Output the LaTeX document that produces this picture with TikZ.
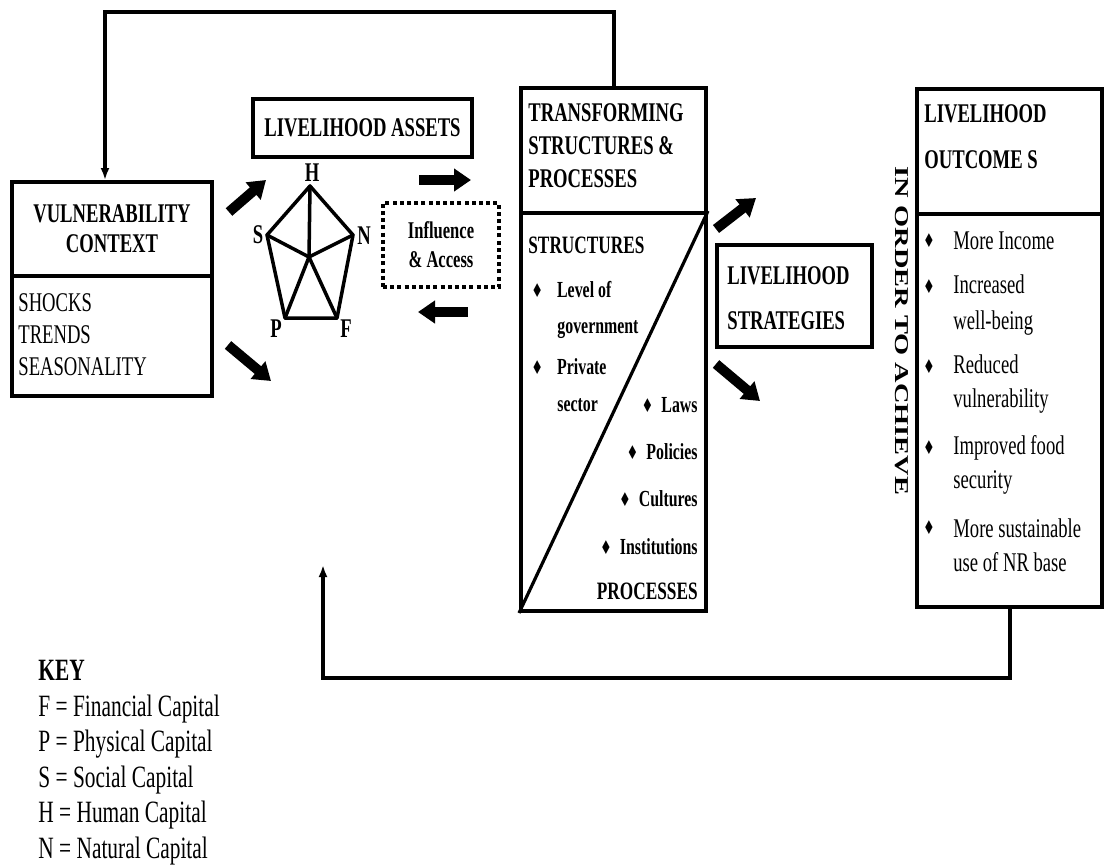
\documentclass[tikz,border=0pt]{standalone}
\usepackage{fontspec}
\setmainfont{Liberation Serif}[FakeStretch=0.69]
\newfontfamily\plainserif{Liberation Serif}
\newfontfamily\diamondfont{DejaVu Sans}[FakeStretch=0.69]
\usepackage{graphicx}
\usepackage{tikz}
\usetikzlibrary{arrows.meta,positioning,calc}

\newcommand{\bulletmark}{{\diamondfont\fontsize{9.5}{10}\selectfont ♦}}

\begin{document}
\begin{tikzpicture}[
  x=0.5pt,y=-0.5pt,
  every node/.style={inner sep=0pt},
  boxframe/.style={draw,line width=2pt,inner sep=0pt},
  heading/.style={font=\bfseries\fontsize{13.5}{15}\selectfont,align=left},
  bodytext/.style={font=\fontsize{13.5}{16}\selectfont,align=left},
  bullettext/.style={font=\bfseries\fontsize{11.5}{13}\selectfont},
  sublabel/.style={font=\bfseries\fontsize{12.5}{14}\selectfont},
  corner/.style={font=\bfseries\fontsize{13.5}{14}\selectfont},
  spoke/.style={line width=1.75pt,line cap=round,line join=round},
  fat/.style={line width=5pt,-{Triangle[length=8.5pt,width=11pt]}},
  feedback/.style={line width=2pt,-{Latex[length=6pt,width=4.5pt]}}
]
  \useasboundingbox (0,0) rectangle (1107,867);

  % Vulnerability context, split in a title part and a list part.
  \node[boxframe,heading,align=center,minimum width=100pt,minimum height=47pt] (vulnhead) at (112,229) {VULNERABILITY\\CONTEXT};
  \node[boxframe,minimum width=100pt,minimum height=60pt] (vulnbody) at (112,336) {};
  \node[bodytext,anchor=west] (vulnlist) at (18,335) {SHOCKS\\TRENDS\\SEASONALITY};

  % Asset pentagon with its five capitals.
  \node[boxframe,heading,minimum width=109.5pt,minimum height=29pt] (assets) at (362.5,128) {LIVELIHOOD ASSETS};
  \coordinate (H) at (310,186);
  \coordinate (S) at (267,235);
  \coordinate (N) at (353,235);
  \coordinate (P) at (285,318);
  \coordinate (F) at (337,318);
  \coordinate (hub) at (309,257);
  \draw[spoke] (H) -- (N) -- (F) -- (P) -- (S) -- cycle;
  \draw[spoke] (hub) -- (H);
  \draw[spoke] (hub) -- (S);
  \draw[spoke] (hub) -- (N);
  \draw[spoke] (hub) -- (P);
  \draw[spoke] (hub) -- (F);
  \node[corner] (hlabel) at (312,173) {H};
  \node[corner] (slabel) at (258,235) {S};
  \node[corner] (nlabel) at (364,236) {N};
  \node[corner] (plabel) at (276,329) {P};
  \node[corner] (flabel) at (346,329) {F};

  \node[boxframe,dash pattern=on 2pt off 1.6pt,minimum width=58pt,minimum height=42pt,font=\bfseries\fontsize{12}{14.5}\selectfont,align=center] (influence) at (441,245) {Influence\\\& Access};

  % Transforming structures and processes.
  \node[boxframe,minimum width=92.5pt,minimum height=62.5pt] (transhead) at (613.5,150.5) {};
  \node[heading,anchor=west,font=\bfseries\fontsize{13.5}{16.5}\selectfont] (transtitle) at (528,146) {TRANSFORMING\\STRUCTURES \&\\PROCESSES};
  \node[boxframe,minimum width=92.5pt,minimum height=199pt] (transbody) at (613.5,412) {};
  \draw[line width=1.6pt] (transbody.south west) -- (transbody.north east);
  \node[sublabel,anchor=west] (structures) at (528,245) {STRUCTURES};
  \node[bullettext,anchor=west] (level) at (531,290) {\bulletmark\hspace{7pt}Level of};
  \node[bullettext,anchor=west] (govt) at (557,330) {government};
  \node[bullettext,anchor=west] (private) at (531,367) {\bulletmark\hspace{7pt}Private};
  \node[bullettext,anchor=west] (sector) at (557,405) {sector};
  \node[bullettext,anchor=east] (laws) at (698,405) {\bulletmark\hspace{4pt}Laws};
  \node[bullettext,anchor=east] (policies) at (698,452) {\bulletmark\hspace{4pt}Policies};
  \node[bullettext,anchor=east] (cultures) at (698,499) {\bulletmark\hspace{4pt}Cultures};
  \node[bullettext,anchor=east] (institutions) at (698,547) {\bulletmark\hspace{4pt}Institutions};
  \node[sublabel,anchor=east] (processes) at (698,591) {PROCESSES};

  % Strategies and outcomes.
  \node[boxframe,minimum width=77.5pt,minimum height=51pt] (strategies) at (794.5,296) {};
  \node[heading,anchor=west,font=\bfseries\fontsize{13.5}{22.5}\selectfont] (stratlabel) at (727,298) {LIVELIHOOD\\STRATEGIES};
  \node[rotate=-90] (achieve) at (902,331) {\scalebox{1}[0.69]{\plainserif\bfseries\fontsize{14.2}{14}\selectfont IN ORDER TO ACHIEVE}};
  \node[boxframe,minimum width=92.5pt,minimum height=62.5pt] (outhead) at (1009.5,151.5) {};
  \node[heading,anchor=west,font=\bfseries\fontsize{13.5}{23}\selectfont] (outtitle) at (924,137) {LIVELIHOOD\\OUTCOME S};
  \node[boxframe,minimum width=92.5pt,minimum height=196.5pt] (outbody) at (1009.5,410.5) {};
  \node (bulincome) at (929,241) {\bulletmark};
  \node[bodytext,anchor=west] (income) at (953,241) {More Income};
  \node (bulwell) at (929,287) {\bulletmark};
  \node[bodytext,anchor=west,font=\fontsize{13.5}{18}\selectfont] (wellbeing) at (953,305) {Increased\\well-being};
  \node (bulvuln) at (929,367) {\bulletmark};
  \node[bodytext,anchor=west,font=\fontsize{13.5}{17}\selectfont] (reduced) at (953,384) {Reduced\\vulnerability};
  \node (bulfood) at (929,448) {\bulletmark};
  \node[bodytext,anchor=west,font=\fontsize{13.5}{17}\selectfont] (food) at (953,465) {Improved food\\security};
  \node (bulnr) at (929,528) {\bulletmark};
  \node[bodytext,anchor=west,font=\fontsize{13.5}{17}\selectfont] (nrbase) at (953,545) {More sustainable\\use of NR base};

  % Fat arrows between the stages.
  \coordinate (va1) at (229,212);
  \coordinate (va2) at (266,180);
  \coordinate (vb1) at (228,345);
  \coordinate (vb2) at (271,381);
  \coordinate (ia1) at (419,180);
  \coordinate (ia2) at (471,180);
  \coordinate (ib1) at (468,312);
  \coordinate (ib2) at (418,312);
  \coordinate (sa1) at (716,229);
  \coordinate (sa2) at (756,198);
  \coordinate (sb1) at (716,364);
  \coordinate (sb2) at (760,401);
  \draw[fat] (va1) -- (va2);
  \draw[fat] (vb1) -- (vb2);
  \draw[fat] (ia1) -- (ia2);
  \draw[fat] (ib1) -- (ib2);
  \draw[fat] (sa1) -- (sa2);
  \draw[fat] (sb1) -- (sb2);

  % Feedback loops over the top and under the bottom.
  \coordinate (topturn) at (105,12);
  \draw[feedback] (transhead.north) |- (topturn) -- (topturn |- vulnhead.north);
  \coordinate (bottomturn) at (323,678);
  \coordinate (returnend) at (323,565);
  \draw[feedback] (outbody.south) |- (bottomturn) -- (returnend);

  % Key to the pentagon letters.
  \node[anchor=north west,align=left,font=\fontsize{15.5}{17.75}\selectfont] (key) at (38,660) {\textbf{KEY}\\F = Financial Capital\\P = Physical Capital\\S = Social Capital\\H = Human Capital\\N = Natural Capital};
\end{tikzpicture}
\end{document}
